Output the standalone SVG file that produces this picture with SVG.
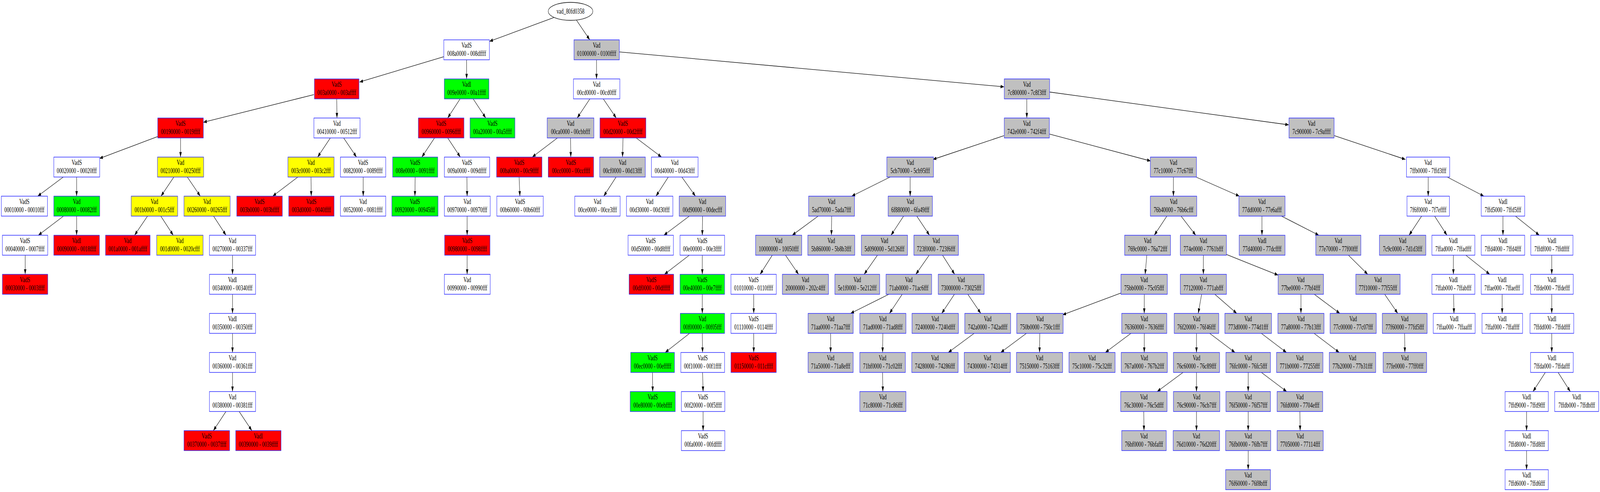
<svg xmlns="http://www.w3.org/2000/svg" width="6035" height="1259" viewBox="0 0 6035 1259" preserveAspectRatio="none" style="width:100vw;height:100vh;display:block">
<defs>
<marker id="ah" markerUnits="userSpaceOnUse" markerWidth="14" markerHeight="10" viewBox="0 0 14 10" refX="13" refY="4.5" orient="auto"><path d="M0,0 L13,4.5 L0,9 z" fill="#000"/></marker>
<style>
.n rect{stroke:#2a2aff;stroke-width:1.5}
.w rect{fill:#ffffff}.r rect{fill:#ff0000}.g rect{fill:#00ff00}.y rect{fill:#ffff00}.k rect{fill:#c0c0c0}
text{font-family:"Liberation Serif","Times New Roman",serif;font-size:18.2px;text-anchor:middle;fill:#000}
#edges line{stroke:#000;stroke-width:1.3;marker-end:url(#ah)}
</style>
</defs>
<rect width="6035" height="1259" fill="#fff"/>
<g id="edges">
<line x1="2090" y1="44.6" x2="1846" y2="105.9"/>
<line x1="2174" y1="51.2" x2="2224.6" y2="102"/>
<line x1="1674" y1="145.1" x2="1356" y2="209.9"/>
<line x1="1760" y1="153" x2="1760" y2="202"/>
<line x1="2250" y1="153" x2="2250" y2="202"/>
<line x1="2336" y1="132.8" x2="3787" y2="222.2"/>
<line x1="1184" y1="242.1" x2="767" y2="312.9"/>
<line x1="1270" y1="253" x2="1271" y2="302"/>
<line x1="1735.5" y1="253" x2="1688.5" y2="302"/>
<line x1="1784.7" y1="253" x2="1832.3" y2="302"/>
<line x1="2225" y1="253" x2="2177" y2="302"/>
<line x1="2275.5" y1="253" x2="2324.5" y2="302"/>
<line x1="3873" y1="253" x2="3873" y2="302"/>
<line x1="3959" y1="235.5" x2="4861" y2="319.5"/>
<line x1="595" y1="349.4" x2="375" y2="405.6"/>
<line x1="681" y1="353" x2="681" y2="402"/>
<line x1="1246" y1="353" x2="1198" y2="402"/>
<line x1="1296.2" y1="353" x2="1344.8" y2="402"/>
<line x1="1639" y1="353" x2="1591" y2="402"/>
<line x1="1688.7" y1="353" x2="1736.3" y2="402"/>
<line x1="2102.5" y1="353" x2="2007.5" y2="402"/>
<line x1="2152" y1="353" x2="2153" y2="402"/>
<line x1="2350" y1="353" x2="2348" y2="402"/>
<line x1="2399.7" y1="353" x2="2495.3" y2="402"/>
<line x1="3787" y1="347.1" x2="3519" y2="408"/>
<line x1="3959" y1="343.1" x2="4340" y2="412"/>
<line x1="5033" y1="347.1" x2="5301" y2="408"/>
<line x1="238.8" y1="453" x2="142.2" y2="502"/>
<line x1="289" y1="453" x2="289" y2="502"/>
<line x1="655.8" y1="453" x2="607.2" y2="502"/>
<line x1="706.5" y1="453" x2="755.5" y2="502"/>
<line x1="1123.5" y1="453" x2="1028.5" y2="502"/>
<line x1="1173" y1="453" x2="1174" y2="502"/>
<line x1="1370" y1="453" x2="1370" y2="502"/>
<line x1="1566" y1="453" x2="1565" y2="502"/>
<line x1="1761" y1="453" x2="1762" y2="502"/>
<line x1="1958" y1="453" x2="1961" y2="502"/>
<line x1="2323.8" y1="453" x2="2277.2" y2="502"/>
<line x1="2520.8" y1="453" x2="2474.2" y2="502"/>
<line x1="2571.8" y1="453" x2="2623.2" y2="502"/>
<line x1="3357.5" y1="453" x2="3212.5" y2="502"/>
<line x1="3433" y1="453" x2="3433" y2="502"/>
<line x1="4426" y1="453" x2="4426" y2="502"/>
<line x1="4511.2" y1="453" x2="4674.8" y2="502"/>
<line x1="5387" y1="453" x2="5387" y2="502"/>
<line x1="5458.9" y1="453" x2="5597.1" y2="502"/>
<line x1="239.5" y1="553" x2="144.5" y2="602"/>
<line x1="289" y1="553" x2="289" y2="602"/>
<line x1="556.5" y1="553" x2="507.5" y2="602"/>
<line x1="606.5" y1="553" x2="653.5" y2="602"/>
<line x1="805.5" y1="553" x2="852.5" y2="602"/>
<line x1="1762" y1="553" x2="1762" y2="602"/>
<line x1="2600" y1="553" x2="2504" y2="602"/>
<line x1="2650" y1="553" x2="2649" y2="602"/>
<line x1="3086" y1="553" x2="2988" y2="602"/>
<line x1="3137" y1="553" x2="3136" y2="602"/>
<line x1="3408.3" y1="553" x2="3360.7" y2="602"/>
<line x1="3458" y1="553" x2="3506" y2="602"/>
<line x1="4401.3" y1="553" x2="4353.7" y2="602"/>
<line x1="4454.8" y1="553" x2="4510.2" y2="602"/>
<line x1="4760" y1="553" x2="4760" y2="602"/>
<line x1="4833.4" y1="553" x2="4974.6" y2="602"/>
<line x1="5362.3" y1="553" x2="5314.7" y2="602"/>
<line x1="5411.2" y1="553" x2="5457.8" y2="602"/>
<line x1="5669" y1="553" x2="5669" y2="602"/>
<line x1="5715.9" y1="553" x2="5806.1" y2="602"/>
<line x1="95" y1="653" x2="95" y2="702"/>
<line x1="877" y1="653" x2="877" y2="702"/>
<line x1="1762" y1="653" x2="1762" y2="702"/>
<line x1="2600" y1="653" x2="2506" y2="702"/>
<line x1="2649" y1="653" x2="2649" y2="702"/>
<line x1="2913" y1="653" x2="2867" y2="702"/>
<line x1="2962.8" y1="653" x2="3012.2" y2="702"/>
<line x1="3309.7" y1="653" x2="3259.3" y2="702"/>
<line x1="3504.7" y1="653" x2="3454.3" y2="702"/>
<line x1="3555" y1="653" x2="3601" y2="702"/>
<line x1="4325.7" y1="653" x2="4319.3" y2="702"/>
<line x1="4539" y1="653" x2="4539" y2="702"/>
<line x1="4625" y1="650.9" x2="4821" y2="704.1"/>
<line x1="5086" y1="653" x2="5159" y2="702"/>
<line x1="5482" y1="653" x2="5482" y2="702"/>
<line x1="5528.9" y1="653" x2="5619.1" y2="702"/>
<line x1="5853" y1="653" x2="5853" y2="702"/>
<line x1="877" y1="753" x2="877" y2="802"/>
<line x1="2649" y1="753" x2="2649" y2="802"/>
<line x1="2843" y1="753" x2="2843" y2="802"/>
<line x1="3352.8" y1="753" x2="3208.2" y2="802"/>
<line x1="3403" y1="753" x2="3355" y2="802"/>
<line x1="3600" y1="753" x2="3552" y2="802"/>
<line x1="3650.5" y1="753" x2="3699.5" y2="802"/>
<line x1="4230" y1="749.3" x2="4008" y2="805.7"/>
<line x1="4316" y1="753" x2="4316" y2="802"/>
<line x1="4532.4" y1="753" x2="4519.6" y2="802"/>
<line x1="4582.1" y1="753" x2="4664.9" y2="802"/>
<line x1="4907" y1="753" x2="4907" y2="802"/>
<line x1="4957.2" y1="753" x2="5053.8" y2="802"/>
<line x1="5222.8" y1="753" x2="5272.2" y2="802"/>
<line x1="5482.8" y1="753" x2="5484.2" y2="802"/>
<line x1="5666" y1="753" x2="5666" y2="802"/>
<line x1="5853" y1="753" x2="5853" y2="802"/>
<line x1="877" y1="853" x2="877" y2="902"/>
<line x1="2601.1" y1="853" x2="2508.9" y2="902"/>
<line x1="2649" y1="853" x2="2650" y2="902"/>
<line x1="2843" y1="853" x2="2843" y2="902"/>
<line x1="3133" y1="853" x2="3133" y2="902"/>
<line x1="3330" y1="853" x2="3329" y2="902"/>
<line x1="3674.3" y1="853" x2="3576.7" y2="902"/>
<line x1="3871.5" y1="853" x2="3774.5" y2="902"/>
<line x1="3922" y1="853" x2="3921" y2="902"/>
<line x1="4265.8" y1="853" x2="4169.2" y2="902"/>
<line x1="4316" y1="853" x2="4316" y2="902"/>
<line x1="4513" y1="853" x2="4513" y2="902"/>
<line x1="4562.7" y1="853" x2="4658.3" y2="902"/>
<line x1="4757.5" y1="853" x2="4852.5" y2="902"/>
<line x1="4956.5" y1="853" x2="5051.5" y2="902"/>
<line x1="5298" y1="853" x2="5299" y2="902"/>
<line x1="5853" y1="853" x2="5853" y2="902"/>
<line x1="877" y1="953" x2="877" y2="1002"/>
<line x1="2461" y1="953" x2="2462" y2="1002"/>
<line x1="2650" y1="953" x2="2652" y2="1002"/>
<line x1="3329" y1="953" x2="3330" y2="1002"/>
<line x1="4462.3" y1="953" x2="4364.7" y2="1002"/>
<line x1="4513" y1="953" x2="4513" y2="1002"/>
<line x1="4708" y1="953" x2="4708" y2="1002"/>
<line x1="4757.7" y1="953" x2="4853.3" y2="1002"/>
<line x1="5828.8" y1="953" x2="5782.2" y2="1002"/>
<line x1="5877" y1="953" x2="5923" y2="1002"/>
<line x1="852.3" y1="1053" x2="804.7" y2="1102"/>
<line x1="902" y1="1053" x2="950" y2="1102"/>
<line x1="2652" y1="1053" x2="2652" y2="1102"/>
<line x1="4314" y1="1053" x2="4315" y2="1102"/>
<line x1="4513" y1="1053" x2="4513" y2="1102"/>
<line x1="4708" y1="1053" x2="4708" y2="1102"/>
<line x1="4903" y1="1053" x2="4904" y2="1102"/>
<line x1="5758" y1="1053" x2="5758" y2="1102"/>
<line x1="4708" y1="1153" x2="4708" y2="1202"/>
<line x1="5758" y1="1153" x2="5758" y2="1202"/>
</g>
<g id="root"><ellipse cx="2152" cy="29" rx="84" ry="23" fill="#fff" stroke="#000" stroke-width="1.3"/><text x="2152" y="35">vad_80fd0358</text></g>
<g id="n008a0000" class="n w"><rect x="1674" y="102" width="172" height="51"/><text x="1760" y="122.5">VadS</text><text x="1760" y="143">008a0000 - 008dffff</text></g>
<g id="n01000000" class="n k"><rect x="2165" y="102" width="171" height="51"/><text x="2250.5" y="122.5">Vad</text><text x="2250.5" y="143">01000000 - 0100ffff</text></g>
<g id="n003a0000" class="n r"><rect x="1186" y="202" width="168" height="51"/><text x="1270" y="222.5">VadS</text><text x="1270" y="243">003a0000 - 003affff</text></g>
<g id="n009e0000" class="n g"><rect x="1676" y="202" width="168" height="51"/><text x="1760" y="222.5">Vadl</text><text x="1760" y="243">009e0000 - 00a1ffff</text></g>
<g id="n00cd0000" class="n w"><rect x="2163" y="202" width="175" height="51"/><text x="2250.5" y="222.5">Vad</text><text x="2250.5" y="243">00cd0000 - 00cd0fff</text></g>
<g id="n7c800000" class="n k"><rect x="3788" y="202" width="171" height="51"/><text x="3873.5" y="222.5">Vad</text><text x="3873.5" y="243">7c800000 - 7c8f3fff</text></g>
<g id="n00190000" class="n r"><rect x="595" y="302" width="172" height="51"/><text x="681" y="322.5">VadS</text><text x="681" y="343">00190000 - 0019ffff</text></g>
<g id="n00410000" class="n w"><rect x="1184" y="302" width="174" height="51"/><text x="1271" y="322.5">Vad</text><text x="1271" y="343">00410000 - 00512fff</text></g>
<g id="n00960000" class="n r"><rect x="1578" y="302" width="172" height="51"/><text x="1664" y="322.5">VadS</text><text x="1664" y="343">00960000 - 0096ffff</text></g>
<g id="n00a20000" class="n g"><rect x="1773" y="302" width="169" height="51"/><text x="1857.5" y="322.5">VadS</text><text x="1857.5" y="343">00a20000 - 00a5ffff</text></g>
<g id="n00ca0000" class="n k"><rect x="2064" y="302" width="176" height="51"/><text x="2152" y="322.5">Vad</text><text x="2152" y="343">00ca0000 - 00cbbfff</text></g>
<g id="n00d20000" class="n r"><rect x="2263" y="302" width="173" height="51"/><text x="2349.5" y="322.5">VadS</text><text x="2349.5" y="343">00d20000 - 00d2ffff</text></g>
<g id="n742e0000" class="n k"><rect x="3788" y="302" width="170" height="51"/><text x="3873" y="322.5">Vad</text><text x="3873" y="343">742e0000 - 742f4fff</text></g>
<g id="n7c900000" class="n k"><rect x="4862" y="302" width="170" height="51"/><text x="4947" y="322.5">Vad</text><text x="4947" y="343">7c900000 - 7c9affff</text></g>
<g id="n00020000" class="n w"><rect x="203" y="402" width="173" height="51"/><text x="289.5" y="422.5">VadS</text><text x="289.5" y="443">00020000 - 00020fff</text></g>
<g id="n00210000" class="n y"><rect x="594" y="402" width="174" height="51"/><text x="681" y="422.5">Vad</text><text x="681" y="443">00210000 - 00250fff</text></g>
<g id="n003c0000" class="n y"><rect x="1086" y="402" width="174" height="51"/><text x="1173" y="422.5">Vad</text><text x="1173" y="443">003c0000 - 003c2fff</text></g>
<g id="n00820000" class="n w"><rect x="1284" y="402" width="171" height="51"/><text x="1369.5" y="422.5">VadS</text><text x="1369.5" y="443">00820000 - 0089ffff</text></g>
<g id="n008e0000" class="n g"><rect x="1481" y="402" width="170" height="51"/><text x="1566" y="422.5">VadS</text><text x="1566" y="443">008e0000 - 0091ffff</text></g>
<g id="n009a0000" class="n w"><rect x="1676" y="402" width="171" height="51"/><text x="1761.5" y="422.5">VadS</text><text x="1761.5" y="443">009a0000 - 009dffff</text></g>
<g id="n00ba0000" class="n r"><rect x="1873" y="402" width="171" height="51"/><text x="1958.5" y="422.5">VadS</text><text x="1958.5" y="443">00ba0000 - 00c9ffff</text></g>
<g id="n00cc0000" class="n r"><rect x="2068" y="402" width="171" height="51"/><text x="2153.5" y="422.5">VadS</text><text x="2153.5" y="443">00cc0000 - 00ccffff</text></g>
<g id="n00cf0000" class="n k"><rect x="2262" y="402" width="172" height="51"/><text x="2348" y="422.5">Vad</text><text x="2348" y="443">00cf0000 - 00d13fff</text></g>
<g id="n00d40000" class="n w"><rect x="2457" y="402" width="176" height="51"/><text x="2545" y="422.5">Vad</text><text x="2545" y="443">00d40000 - 00d43fff</text></g>
<g id="n5cb70000" class="n k"><rect x="3345" y="402" width="176" height="51"/><text x="3433" y="422.5">Vad</text><text x="3433" y="443">5cb70000 - 5cb95fff</text></g>
<g id="n77c10000" class="n k"><rect x="4339" y="402" width="174" height="51"/><text x="4426" y="422.5">Vad</text><text x="4426" y="443">77c10000 - 77c67fff</text></g>
<g id="n7ffb0000" class="n w"><rect x="5305" y="402" width="163" height="51"/><text x="5386.5" y="422.5">Vad</text><text x="5386.5" y="443">7ffb0000 - 7ffd3fff</text></g>
<g id="n00010000" class="n w"><rect x="5" y="502" width="174" height="51"/><text x="92" y="522.5">VadS</text><text x="92" y="543">00010000 - 00010fff</text></g>
<g id="n00080000" class="n g"><rect x="203" y="502" width="173" height="51"/><text x="289.5" y="522.5">Vad</text><text x="289.5" y="543">00080000 - 00082fff</text></g>
<g id="n001b0000" class="n y"><rect x="495" y="502" width="175" height="51"/><text x="582.5" y="522.5">Vad</text><text x="582.5" y="543">001b0000 - 001c5fff</text></g>
<g id="n00260000" class="n y"><rect x="694" y="502" width="174" height="51"/><text x="781" y="522.5">Vad</text><text x="781" y="543">00260000 - 00265fff</text></g>
<g id="n003b0000" class="n r"><rect x="893" y="502" width="172" height="51"/><text x="979" y="522.5">VadS</text><text x="979" y="543">003b0000 - 003bffff</text></g>
<g id="n003d0000" class="n r"><rect x="1089" y="502" width="171" height="51"/><text x="1174.5" y="522.5">VadS</text><text x="1174.5" y="543">003d0000 - 0040ffff</text></g>
<g id="n00520000" class="n w"><rect x="1284" y="502" width="171" height="51"/><text x="1369.5" y="522.5">Vad</text><text x="1369.5" y="543">00520000 - 0081ffff</text></g>
<g id="n00920000" class="n g"><rect x="1478" y="502" width="174" height="51"/><text x="1565" y="522.5">VadS</text><text x="1565" y="543">00920000 - 00945fff</text></g>
<g id="n00970000" class="n w"><rect x="1676" y="502" width="173" height="51"/><text x="1762.5" y="522.5">Vad</text><text x="1762.5" y="543">00970000 - 00970fff</text></g>
<g id="n00b60000" class="n w"><rect x="1874" y="502" width="175" height="51"/><text x="1961.5" y="522.5">VadS</text><text x="1961.5" y="543">00b60000 - 00b60fff</text></g>
<g id="n00ce0000" class="n w"><rect x="2168" y="502" width="171" height="51"/><text x="2253.5" y="522.5">Vad</text><text x="2253.5" y="543">00ce0000 - 00ce3fff</text></g>
<g id="n00d30000" class="n w"><rect x="2363" y="502" width="175" height="51"/><text x="2450.5" y="522.5">Vad</text><text x="2450.5" y="543">00d30000 - 00d30fff</text></g>
<g id="n00d90000" class="n k"><rect x="2562" y="502" width="175" height="51"/><text x="2649.5" y="522.5">Vad</text><text x="2649.5" y="543">00d90000 - 00decfff</text></g>
<g id="n5ad70000" class="n k"><rect x="3050" y="502" width="173" height="51"/><text x="3136.5" y="522.5">Vad</text><text x="3136.5" y="543">5ad70000 - 5ada7fff</text></g>
<g id="n6f880000" class="n k"><rect x="3350" y="502" width="167" height="51"/><text x="3433.5" y="522.5">Vad</text><text x="3433.5" y="543">6f880000 - 6fa49fff</text></g>
<g id="n76b40000" class="n k"><rect x="4339" y="502" width="175" height="51"/><text x="4426.5" y="522.5">Vad</text><text x="4426.5" y="543">76b40000 - 76b6cfff</text></g>
<g id="n77dd0000" class="n k"><rect x="4673" y="502" width="174" height="51"/><text x="4760" y="522.5">Vad</text><text x="4760" y="543">77dd0000 - 77e6afff</text></g>
<g id="n7f6f0000" class="n w"><rect x="5307" y="502" width="160" height="51"/><text x="5387" y="522.5">Vad</text><text x="5387" y="543">7f6f0000 - 7f7effff</text></g>
<g id="n7ffd5000" class="n w"><rect x="5587" y="502" width="164" height="51"/><text x="5669" y="522.5">Vadl</text><text x="5669" y="543">7ffd5000 - 7ffd5fff</text></g>
<g id="n00040000" class="n w"><rect x="9" y="602" width="171" height="51"/><text x="94.5" y="622.5">VadS</text><text x="94.5" y="643">00040000 - 0007ffff</text></g>
<g id="n00090000" class="n r"><rect x="203" y="602" width="172" height="51"/><text x="289" y="622.5">Vadl</text><text x="289" y="643">00090000 - 0018ffff</text></g>
<g id="n001a0000" class="n r"><rect x="398" y="602" width="168" height="51"/><text x="482" y="622.5">Vad</text><text x="482" y="643">001a0000 - 001affff</text></g>
<g id="n001d0000" class="n y"><rect x="591" y="602" width="175" height="51"/><text x="678.5" y="622.5">Vad</text><text x="678.5" y="643">001d0000 - 0020cfff</text></g>
<g id="n00270000" class="n w"><rect x="790" y="602" width="174" height="51"/><text x="877" y="622.5">Vad</text><text x="877" y="643">00270000 - 00337fff</text></g>
<g id="n00980000" class="n r"><rect x="1677" y="602" width="171" height="51"/><text x="1762.5" y="622.5">VadS</text><text x="1762.5" y="643">00980000 - 0098ffff</text></g>
<g id="n00d50000" class="n w"><rect x="2369" y="602" width="171" height="51"/><text x="2454.5" y="622.5">VadS</text><text x="2454.5" y="643">00d50000 - 00d8ffff</text></g>
<g id="n00e00000" class="n w"><rect x="2565" y="602" width="168" height="51"/><text x="2649" y="622.5">VadS</text><text x="2649" y="643">00e00000 - 00e3ffff</text></g>
<g id="n10000000" class="n k"><rect x="2850" y="602" width="174" height="51"/><text x="2937" y="622.5">Vad</text><text x="2937" y="643">10000000 - 10050fff</text></g>
<g id="n5b860000" class="n k"><rect x="3047" y="602" width="177" height="51"/><text x="3135.5" y="622.5">Vad</text><text x="3135.5" y="643">5b860000 - 5b8b3fff</text></g>
<g id="n5d090000" class="n k"><rect x="3249" y="602" width="174" height="51"/><text x="3336" y="622.5">Vad</text><text x="3336" y="643">5d090000 - 5d126fff</text></g>
<g id="n723f0000" class="n k"><rect x="3447" y="602" width="168" height="51"/><text x="3531" y="622.5">Vad</text><text x="3531" y="643">723f0000 - 723f6fff</text></g>
<g id="n769c0000" class="n k"><rect x="4242" y="602" width="173" height="51"/><text x="4328.5" y="622.5">Vad</text><text x="4328.5" y="643">769c0000 - 76a72fff</text></g>
<g id="n774e0000" class="n k"><rect x="4452" y="602" width="174" height="51"/><text x="4539" y="622.5">Vad</text><text x="4539" y="643">774e0000 - 7761bfff</text></g>
<g id="n77d40000" class="n k"><rect x="4674" y="602" width="173" height="51"/><text x="4760.5" y="622.5">Vadl</text><text x="4760.5" y="643">77d40000 - 77dcffff</text></g>
<g id="n77e70000" class="n k"><rect x="4963" y="602" width="170" height="51"/><text x="5048" y="622.5">Vad</text><text x="5048" y="643">77e70000 - 77f00fff</text></g>
<g id="n7c9c0000" class="n k"><rect x="5203" y="602" width="175" height="51"/><text x="5290.5" y="622.5">Vad</text><text x="5290.5" y="643">7c9c0000 - 7d1d3fff</text></g>
<g id="n7ffad000" class="n w"><rect x="5401" y="602" width="162" height="51"/><text x="5482" y="622.5">Vadl</text><text x="5482" y="643">7ffad000 - 7ffadfff</text></g>
<g id="n7ffd4000" class="n w"><rect x="5587" y="602" width="164" height="51"/><text x="5669" y="622.5">Vadl</text><text x="5669" y="643">7ffd4000 - 7ffd4fff</text></g>
<g id="n7ffdf000" class="n w"><rect x="5774" y="602" width="159" height="51"/><text x="5853.5" y="622.5">Vadl</text><text x="5853.5" y="643">7ffdf000 - 7ffdffff</text></g>
<g id="n00030000" class="n r"><rect x="9" y="702" width="171" height="51"/><text x="94.5" y="722.5">VadS</text><text x="94.5" y="743">00030000 - 0003ffff</text></g>
<g id="n00340000" class="n w"><rect x="790" y="702" width="174" height="51"/><text x="877" y="722.5">Vadl</text><text x="877" y="743">00340000 - 00340fff</text></g>
<g id="n00990000" class="n w"><rect x="1676" y="702" width="173" height="51"/><text x="1762.5" y="722.5">Vad</text><text x="1762.5" y="743">00990000 - 00990fff</text></g>
<g id="n00df0000" class="n r"><rect x="2373" y="702" width="168" height="51"/><text x="2457" y="722.5">VadS</text><text x="2457" y="743">00df0000 - 00dfffff</text></g>
<g id="n00e40000" class="n g"><rect x="2565" y="702" width="168" height="51"/><text x="2649" y="722.5">VadS</text><text x="2649" y="743">00e40000 - 00e7ffff</text></g>
<g id="n01010000" class="n w"><rect x="2757" y="702" width="171" height="51"/><text x="2842.5" y="722.5">VadS</text><text x="2842.5" y="743">01010000 - 0110ffff</text></g>
<g id="n20000000" class="n k"><rect x="2951" y="702" width="174" height="51"/><text x="3038" y="722.5">Vad</text><text x="3038" y="743">20000000 - 202c4fff</text></g>
<g id="n5e1f0000" class="n k"><rect x="3149" y="702" width="169" height="51"/><text x="3233.5" y="722.5">Vad</text><text x="3233.5" y="743">5e1f0000 - 5e212fff</text></g>
<g id="n71ab0000" class="n k"><rect x="3342" y="702" width="172" height="51"/><text x="3428" y="722.5">Vad</text><text x="3428" y="743">71ab0000 - 71ac6fff</text></g>
<g id="n73000000" class="n k"><rect x="3539" y="702" width="173" height="51"/><text x="3625.5" y="722.5">Vad</text><text x="3625.5" y="743">73000000 - 73025fff</text></g>
<g id="n75bb0000" class="n k"><rect x="4228" y="702" width="175" height="51"/><text x="4315.5" y="722.5">Vad</text><text x="4315.5" y="743">75bb0000 - 75c05fff</text></g>
<g id="n77120000" class="n k"><rect x="4452" y="702" width="174" height="51"/><text x="4539" y="722.5">Vad</text><text x="4539" y="743">77120000 - 771abfff</text></g>
<g id="n77be0000" class="n k"><rect x="4821" y="702" width="171" height="51"/><text x="4906.5" y="722.5">Vad</text><text x="4906.5" y="743">77be0000 - 77bf4fff</text></g>
<g id="n77f10000" class="n k"><rect x="5114" y="702" width="167" height="51"/><text x="5197.5" y="722.5">Vad</text><text x="5197.5" y="743">77f10000 - 77f55fff</text></g>
<g id="n7ffab000" class="n w"><rect x="5401" y="702" width="162" height="51"/><text x="5482" y="722.5">Vadl</text><text x="5482" y="743">7ffab000 - 7ffabfff</text></g>
<g id="n7ffae000" class="n w"><rect x="5587" y="702" width="158" height="51"/><text x="5666" y="722.5">Vadl</text><text x="5666" y="743">7ffae000 - 7ffaefff</text></g>
<g id="n7ffde000" class="n w"><rect x="5773" y="702" width="161" height="51"/><text x="5853.5" y="722.5">Vadl</text><text x="5853.5" y="743">7ffde000 - 7ffdefff</text></g>
<g id="n00350000" class="n w"><rect x="790" y="802" width="174" height="51"/><text x="877" y="822.5">Vadl</text><text x="877" y="843">00350000 - 00350fff</text></g>
<g id="n00f00000" class="n g"><rect x="2566" y="802" width="167" height="51"/><text x="2649.5" y="822.5">Vad</text><text x="2649.5" y="843">00f00000 - 00f05fff</text></g>
<g id="n01110000" class="n w"><rect x="2757" y="802" width="171" height="51"/><text x="2842.5" y="822.5">VadS</text><text x="2842.5" y="843">01110000 - 0114ffff</text></g>
<g id="n71aa0000" class="n k"><rect x="3048" y="802" width="170" height="51"/><text x="3133" y="822.5">Vad</text><text x="3133" y="843">71aa0000 - 71aa7fff</text></g>
<g id="n71ad0000" class="n k"><rect x="3243" y="802" width="174" height="51"/><text x="3330" y="822.5">Vad</text><text x="3330" y="843">71ad0000 - 71ad8fff</text></g>
<g id="n72400000" class="n k"><rect x="3440" y="802" width="175" height="51"/><text x="3527.5" y="822.5">Vad</text><text x="3527.5" y="843">72400000 - 7240dfff</text></g>
<g id="n742a0000" class="n k"><rect x="3639" y="802" width="173" height="51"/><text x="3725.5" y="822.5">Vad</text><text x="3725.5" y="843">742a0000 - 742adfff</text></g>
<g id="n750b0000" class="n k"><rect x="3835" y="802" width="175" height="51"/><text x="3922.5" y="822.5">Vad</text><text x="3922.5" y="843">750b0000 - 750c1fff</text></g>
<g id="n76360000" class="n k"><rect x="4231" y="802" width="170" height="51"/><text x="4316" y="822.5">Vad</text><text x="4316" y="843">76360000 - 7636ffff</text></g>
<g id="n76f20000" class="n k"><rect x="4429" y="802" width="168" height="51"/><text x="4513" y="822.5">Vad</text><text x="4513" y="843">76f20000 - 76f46fff</text></g>
<g id="n773d0000" class="n k"><rect x="4620" y="802" width="176" height="51"/><text x="4708" y="822.5">Vad</text><text x="4708" y="843">773d0000 - 774d1fff</text></g>
<g id="n77a80000" class="n k"><rect x="4820" y="802" width="174" height="51"/><text x="4907" y="822.5">Vad</text><text x="4907" y="843">77a80000 - 77b13fff</text></g>
<g id="n77c00000" class="n k"><rect x="5017" y="802" width="174" height="51"/><text x="5104" y="822.5">Vad</text><text x="5104" y="843">77c00000 - 77c07fff</text></g>
<g id="n77f60000" class="n k"><rect x="5214" y="802" width="169" height="51"/><text x="5298.5" y="822.5">Vad</text><text x="5298.5" y="843">77f60000 - 77fd5fff</text></g>
<g id="n7ffaa000" class="n w"><rect x="5406" y="802" width="158" height="51"/><text x="5485" y="822.5">Vadl</text><text x="5485" y="843">7ffaa000 - 7ffaafff</text></g>
<g id="n7ffaf000" class="n w"><rect x="5590" y="802" width="153" height="51"/><text x="5666.5" y="822.5">Vadl</text><text x="5666.5" y="843">7ffaf000 - 7ffaffff</text></g>
<g id="n7ffdd000" class="n w"><rect x="5771" y="802" width="165" height="51"/><text x="5853.5" y="822.5">Vadl</text><text x="5853.5" y="843">7ffdd000 - 7ffddfff</text></g>
<g id="n00360000" class="n w"><rect x="790" y="902" width="174" height="51"/><text x="877" y="922.5">Vad</text><text x="877" y="943">00360000 - 00361fff</text></g>
<g id="n00ec0000" class="n g"><rect x="2379" y="902" width="165" height="51"/><text x="2461.5" y="922.5">VadS</text><text x="2461.5" y="943">00ec0000 - 00efffff</text></g>
<g id="n00f10000" class="n w"><rect x="2568" y="902" width="165" height="51"/><text x="2650.5" y="922.5">VadS</text><text x="2650.5" y="943">00f10000 - 00f1ffff</text></g>
<g id="n01150000" class="n r"><rect x="2757" y="902" width="171" height="51"/><text x="2842.5" y="922.5">VadS</text><text x="2842.5" y="943">01150000 - 011cffff</text></g>
<g id="n71a50000" class="n k"><rect x="3048" y="902" width="170" height="51"/><text x="3133" y="922.5">Vad</text><text x="3133" y="943">71a50000 - 71a8efff</text></g>
<g id="n71bf0000" class="n k"><rect x="3243" y="902" width="172" height="51"/><text x="3329" y="922.5">Vad</text><text x="3329" y="943">71bf0000 - 71c02fff</text></g>
<g id="n74280000" class="n k"><rect x="3439" y="902" width="175" height="51"/><text x="3526.5" y="922.5">Vad</text><text x="3526.5" y="943">74280000 - 74286fff</text></g>
<g id="n74300000" class="n k"><rect x="3637" y="902" width="174" height="51"/><text x="3724" y="922.5">Vad</text><text x="3724" y="943">74300000 - 74314fff</text></g>
<g id="n75150000" class="n k"><rect x="3834" y="902" width="174" height="51"/><text x="3921" y="922.5">Vad</text><text x="3921" y="943">75150000 - 75163fff</text></g>
<g id="n75c10000" class="n k"><rect x="4032" y="902" width="174" height="51"/><text x="4119" y="922.5">Vad</text><text x="4119" y="943">75c10000 - 75c32fff</text></g>
<g id="n767a0000" class="n k"><rect x="4229" y="902" width="174" height="51"/><text x="4316" y="922.5">Vad</text><text x="4316" y="943">767a0000 - 767b2fff</text></g>
<g id="n76c60000" class="n k"><rect x="4426" y="902" width="174" height="51"/><text x="4513" y="922.5">Vad</text><text x="4513" y="943">76c60000 - 76c89fff</text></g>
<g id="n76fc0000" class="n k"><rect x="4624" y="902" width="168" height="51"/><text x="4708" y="922.5">Vad</text><text x="4708" y="943">76fc0000 - 76fc5fff</text></g>
<g id="n771b0000" class="n k"><rect x="4815" y="902" width="175" height="51"/><text x="4902.5" y="922.5">Vad</text><text x="4902.5" y="943">771b0000 - 77255fff</text></g>
<g id="n77b20000" class="n k"><rect x="5014" y="902" width="175" height="51"/><text x="5101.5" y="922.5">Vad</text><text x="5101.5" y="943">77b20000 - 77b31fff</text></g>
<g id="n77fe0000" class="n k"><rect x="5217" y="902" width="164" height="51"/><text x="5299" y="922.5">Vad</text><text x="5299" y="943">77fe0000 - 77ff0fff</text></g>
<g id="n7ffda000" class="n w"><rect x="5773" y="902" width="161" height="51"/><text x="5853.5" y="922.5">Vadl</text><text x="5853.5" y="943">7ffda000 - 7ffdafff</text></g>
<g id="n00380000" class="n w"><rect x="790" y="1002" width="174" height="51"/><text x="877" y="1022.5">Vad</text><text x="877" y="1043">00380000 - 00381fff</text></g>
<g id="n00e80000" class="n g"><rect x="2377" y="1002" width="170" height="51"/><text x="2462" y="1022.5">VadS</text><text x="2462" y="1043">00e80000 - 00ebffff</text></g>
<g id="n00f20000" class="n w"><rect x="2570" y="1002" width="164" height="51"/><text x="2652" y="1022.5">VadS</text><text x="2652" y="1043">00f20000 - 00f5ffff</text></g>
<g id="n71c80000" class="n k"><rect x="3243" y="1002" width="174" height="51"/><text x="3330" y="1022.5">Vad</text><text x="3330" y="1043">71c80000 - 71c86fff</text></g>
<g id="n76c30000" class="n k"><rect x="4227" y="1002" width="175" height="51"/><text x="4314.5" y="1022.5">Vad</text><text x="4314.5" y="1043">76c30000 - 76c5dfff</text></g>
<g id="n76c90000" class="n k"><rect x="4426" y="1002" width="175" height="51"/><text x="4513.5" y="1022.5">Vad</text><text x="4513.5" y="1043">76c90000 - 76cb7fff</text></g>
<g id="n76f50000" class="n k"><rect x="4624" y="1002" width="168" height="51"/><text x="4708" y="1022.5">Vad</text><text x="4708" y="1043">76f50000 - 76f57fff</text></g>
<g id="n76fd0000" class="n k"><rect x="4817" y="1002" width="172" height="51"/><text x="4903" y="1022.5">Vad</text><text x="4903" y="1043">76fd0000 - 7704efff</text></g>
<g id="n7ffd9000" class="n w"><rect x="5677" y="1002" width="163" height="51"/><text x="5758.5" y="1022.5">Vadl</text><text x="5758.5" y="1043">7ffd9000 - 7ffd9fff</text></g>
<g id="n7ffdb000" class="n w"><rect x="5864" y="1002" width="166" height="51"/><text x="5947" y="1022.5">Vadl</text><text x="5947" y="1043">7ffdb000 - 7ffdbfff</text></g>
<g id="n00370000" class="n r"><rect x="694" y="1102" width="172" height="51"/><text x="780" y="1122.5">VadS</text><text x="780" y="1143">00370000 - 0037ffff</text></g>
<g id="n00390000" class="n r"><rect x="889" y="1102" width="171" height="51"/><text x="974.5" y="1122.5">Vadl</text><text x="974.5" y="1143">00390000 - 0039ffff</text></g>
<g id="n00fa0000" class="n w"><rect x="2570" y="1102" width="164" height="51"/><text x="2652" y="1122.5">VadS</text><text x="2652" y="1143">00fa0000 - 00fdffff</text></g>
<g id="n76bf0000" class="n k"><rect x="4231" y="1102" width="168" height="51"/><text x="4315" y="1122.5">Vad</text><text x="4315" y="1143">76bf0000 - 76bfafff</text></g>
<g id="n76d10000" class="n k"><rect x="4425" y="1102" width="175" height="51"/><text x="4512.5" y="1122.5">Vad</text><text x="4512.5" y="1143">76d10000 - 76d20fff</text></g>
<g id="n76fb0000" class="n k"><rect x="4623" y="1102" width="170" height="51"/><text x="4708" y="1122.5">Vad</text><text x="4708" y="1143">76fb0000 - 76fb7fff</text></g>
<g id="n77050000" class="n k"><rect x="4817" y="1102" width="174" height="51"/><text x="4904" y="1122.5">Vad</text><text x="4904" y="1143">77050000 - 77114fff</text></g>
<g id="n7ffd8000" class="n w"><rect x="5677" y="1102" width="163" height="51"/><text x="5758.5" y="1122.5">Vadl</text><text x="5758.5" y="1143">7ffd8000 - 7ffd8fff</text></g>
<g id="n76f60000" class="n k"><rect x="4623" y="1202" width="169" height="51"/><text x="4707.5" y="1222.5">Vad</text><text x="4707.5" y="1243">76f60000 - 76f8bfff</text></g>
<g id="n7ffd6000" class="n w"><rect x="5677" y="1202" width="163" height="51"/><text x="5758.5" y="1222.5">Vadl</text><text x="5758.5" y="1243">7ffd6000 - 7ffd6fff</text></g>
</svg>
